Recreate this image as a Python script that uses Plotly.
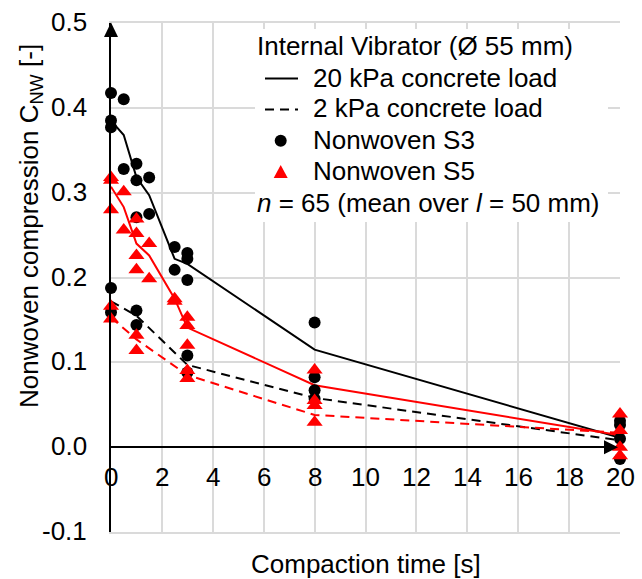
import plotly.graph_objects as go

# ---------------- data ----------------
# mean curves (lines)
time_20kpa = [0, 0.5, 1, 1.5, 2.5, 3, 8, 20]
s3_20kpa_mean = [0.385, 0.368, 0.318, 0.297, 0.222, 0.216, 0.115, 0.011]
s5_20kpa_mean = [0.307, 0.283, 0.240, 0.226, 0.175, 0.141, 0.073, 0.014]
time_2kpa = [0, 1, 3, 8, 20]
s3_2kpa_mean = [0.172, 0.155, 0.097, 0.058, 0.008]
s5_2kpa_mean = [0.153, 0.127, 0.085, 0.038, 0.017]

# individual measurements (markers)
s3_time = [0, 0, 0, 0, 0,
           0.5, 0.5,
           1, 1, 1, 1, 1,
           1.5, 1.5,
           2.5, 2.5,
           3, 3, 3, 3, 3,
           8, 8, 8, 8,
           20, 20, 20, 20]
s3_values = [0.4175, 0.385, 0.377, 0.1875, 0.159,
             0.410, 0.328,
             0.334, 0.3145, 0.271, 0.161, 0.144,
             0.318, 0.275,
             0.236, 0.209,
             0.229, 0.222, 0.197, 0.108, 0.088,
             0.147, 0.0825, 0.067, 0.057,
             0.031, 0.026, 0.010, -0.014]

s5_time = [0, 0, 0, 0, 0,
           0.5, 0.5,
           1, 1, 1, 1, 1, 1,
           1.5, 1.5,
           2.5, 2.5,
           3, 3, 3, 3, 3,
           8, 8, 8, 8,
           20, 20, 20, 20]
s5_values = [0.318, 0.3145, 0.280, 0.166, 0.151,
             0.301, 0.256,
             0.269, 0.252, 0.226, 0.209, 0.132, 0.114,
             0.240, 0.1985,
             0.175, 0.172,
             0.153, 0.1435, 0.120, 0.0905, 0.081,
             0.091, 0.055, 0.049, 0.0295,
             0.039, 0.0197, 0.0, -0.010]

x_tick_values = [0, 2, 4, 6, 8, 10, 12, 14, 16, 18, 20]
x_tick_labels = ["0", "2", "4", "6", "8", "10", "12", "14", "16", "18", "20"]
y_tick_values = [-0.1, 0.0, 0.1, 0.2, 0.3, 0.4, 0.5]
y_tick_labels = ["-0.1", "0.0", "0.1", "0.2", "0.3", "0.4", "0.5"]

X_RANGE = [0, 20]
Y_RANGE = [-0.1, 0.5]

# ---------------- styling ----------------
FONT = "Liberation Sans, Arial, sans-serif"
FS = 26
GRID = "#dadada"
GRID_W = 2
RED = "#ff0000"
DASH = "9px,6px"

W, H = 642, 579
ML, MR, MT, MB = 111, 22, 23, 47
PW = W - ML - MR
PH = H - MT - MB


def px(xp):
    return (xp - ML) / PW


def py(yp):
    return (H - MB - yp) / PH


fig = go.Figure()

fig.add_trace(go.Scatter(x=time_20kpa, y=s3_20kpa_mean, mode="lines",
                         line=dict(color="black", width=2), showlegend=False))
fig.add_trace(go.Scatter(x=time_20kpa, y=s5_20kpa_mean, mode="lines",
                         line=dict(color=RED, width=2), showlegend=False))
fig.add_trace(go.Scatter(x=time_2kpa, y=s3_2kpa_mean, mode="lines",
                         line=dict(color="black", width=2, dash=DASH), showlegend=False))
fig.add_trace(go.Scatter(x=time_2kpa, y=s5_2kpa_mean, mode="lines",
                         line=dict(color=RED, width=2, dash=DASH), showlegend=False))
fig.add_trace(go.Scatter(x=s3_time, y=s3_values, mode="markers", cliponaxis=False,
                         marker=dict(symbol="circle", size=12, color="black"),
                         showlegend=False))
fig.add_trace(go.Scatter(x=s5_time, y=s5_values, mode="markers", cliponaxis=False,
                         marker=dict(symbol="triangle-up", size=14, color=RED),
                         showlegend=False))

# paper fraction of y = 0 (where the x axis line crosses)
y_zero_paper = (0 - Y_RANGE[0]) / (Y_RANGE[1] - Y_RANGE[0])
y_zero_px = H - MB - y_zero_paper * PH

LEG_DY = -1.0

shapes = []
# legend background (white box hiding the grid)
shapes.append(dict(type="rect", xref="paper", yref="paper",
                   x0=px(255), x1=px(608), y0=py(222), y1=py(29),
                   fillcolor="white", line=dict(width=0), layer="above"))
# legend samples
shapes.append(dict(type="line", xref="paper", yref="paper", x0=px(265), x1=px(298),
                   y0=py(78.5), y1=py(78.5), line=dict(color="black", width=2), layer="above"))
shapes.append(dict(type="line", xref="paper", yref="paper", x0=px(265), x1=px(298),
                   y0=py(109.5), y1=py(109.5), line=dict(color="black", width=2, dash=DASH),
                   layer="above"))
shapes.append(dict(type="circle", xref="paper", yref="paper",
                   x0=px(280.7 - 6), x1=px(280.7 + 6), y0=py(140.7 + 6), y1=py(140.7 - 6),
                   fillcolor="black", line=dict(width=0), layer="above"))
tri = "M {},{} L {},{} L {},{} Z".format(px(280.7 - 7), py(178), px(280.7 + 7), py(178),
                                         px(280.7), py(165))
shapes.append(dict(type="path", xref="paper", yref="paper", path=tri,
                   fillcolor=RED, line=dict(width=0), layer="above"))
# axis arrowheads
yarrow = "M {},{} L {},{} L {},{} Z".format(px(ML - 7), py(37), px(ML + 7), py(37),
                                            px(ML), py(MT - 0.5))
shapes.append(dict(type="path", xref="paper", yref="paper", path=yarrow,
                   fillcolor="black", line=dict(width=0), layer="above"))
xarrow = "M {},{} L {},{} L {},{} Z".format(px(604), py(y_zero_px - 7), px(604),
                                            py(y_zero_px + 7), px(618), py(y_zero_px))
shapes.append(dict(type="path", xref="paper", yref="paper", path=xarrow,
                   fillcolor="black", line=dict(width=0), layer="above"))

annotations = []
# x tick labels next to the axis line at y = 0
for v, t in zip(x_tick_values, x_tick_labels):
    annotations.append(dict(x=v, y=0, xref="x", yref="y", showarrow=False, text=t,
                            xanchor="center", yanchor="middle", yshift=-29.5,
                            font=dict(family=FONT, size=FS, color="black")))
# y tick labels, right aligned at a fixed distance from the axis line
for v, t in zip(y_tick_values, y_tick_labels):
    annotations.append(dict(x=0, y=v, xref="paper", yref="y", showarrow=False, text=t,
                            xanchor="right", yanchor="middle", xshift=-23.5, yshift=1,
                            borderpad=0,
                            font=dict(family=FONT, size=FS, color="black")))
# axis titles
annotations.append(dict(x=0.5, y=py(563.5), xref="paper", yref="paper", showarrow=False,
                        text="Compaction time [s]", xanchor="center", yanchor="middle",
                        font=dict(family=FONT, size=FS, color="black")))
annotations.append(dict(x=0, y=py(226), xref="paper", yref="paper", showarrow=False,
                        xshift=-81, textangle=-90,
                        text="Nonwoven compression C<sub>NW</sub> [-]",
                        xanchor="center", yanchor="middle",
                        font=dict(family=FONT, size=FS, color="black")))
# legend texts
leg = [
    (256, 47, "Internal Vibrator (Ø 55 mm)"),
    (311.7, 78.5, "20 kPa concrete load"),
    (311.7, 109.5, "2 kPa concrete load"),
    (311.7, 140.7, "Nonwoven S3"),
    (311.7, 171.7, "Nonwoven S5"),
    (256, 203.5, "<i>n</i> = 65 (mean over <i>l</i> = 50 mm)"),
]
for xp, yp, t in leg:
    annotations.append(dict(x=px(xp), y=py(yp + LEG_DY), xref="paper", yref="paper",
                            showarrow=False, text=t, xanchor="left", yanchor="middle",
                            borderpad=0, font=dict(family=FONT, size=FS, color="black")))

fig.update_layout(
    width=W, height=H,
    margin=dict(l=ML, r=MR, t=MT, b=MB, pad=0),
    template="none",
    paper_bgcolor="white", plot_bgcolor="white",
    font=dict(family=FONT, size=FS, color="black"),
    showlegend=False,
    shapes=shapes,
    annotations=annotations,
    xaxis=dict(range=X_RANGE,
               tickmode="array", tickvals=x_tick_values,
               showticklabels=False, ticks="",
               showgrid=True, gridcolor=GRID, gridwidth=GRID_W,
               showline=True, linecolor=GRID, linewidth=GRID_W, mirror=True,
               zeroline=False),
    yaxis=dict(range=Y_RANGE,
               tickmode="array", tickvals=y_tick_values,
               showticklabels=False, ticks="",
               showgrid=True, gridcolor=GRID, gridwidth=GRID_W,
               showline=True, linecolor="black", linewidth=2,
               zeroline=True, zerolinecolor="black", zerolinewidth=2),
)

fig.write_html("out.html")
